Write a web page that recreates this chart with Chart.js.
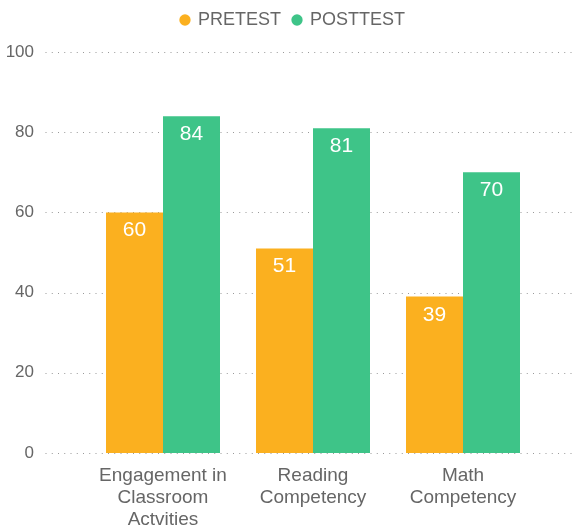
<!DOCTYPE html>
<html>
<head>
<meta charset="utf-8">
<script src="https://cdn.jsdelivr.net/npm/chart.js@4.4.1/dist/chart.umd.min.js"></script>
<style>
  html, body { margin: 0; padding: 0; background: #fff; }
  #wrap { width: 575px; height: 527px; }
</style>
</head>
<body>
<div id="wrap"><canvas id="barChart" width="575" height="527"></canvas></div>
<script>
const categories = [
    ['Engagement in', 'Classroom', 'Actvities'],
    ['Reading', 'Competency'],
    ['Math', 'Competency']
];
const pretest = [60, 51, 39];
const posttest = [84, 81, 70];
const yTicks = [0, 20, 40, 60, 80, 100];

const FONT = "'Liberation Sans', Arial, Helvetica, sans-serif";

// dotted lines across the whole width, y taken from the scale
const dottedGrid = {
    id: 'dottedGrid',
    beforeDatasetsDraw(chart) {
        const ctx = chart.ctx;
        const y = chart.scales.y;
        ctx.save();
        ctx.strokeStyle = '#999999';
        ctx.lineWidth = 1;
        ctx.setLineDash([1, 5.25]);
        yTicks.forEach(v => {
            const py = Math.round(y.getPixelForValue(v)) + 0.5;
            ctx.beginPath();
            ctx.moveTo(45.5, py);
            ctx.lineTo(chart.width, py);
            ctx.stroke();
        });
        ctx.restore();
    }
};

// white value labels inside the top of each bar
const valueLabels = {
    id: 'valueLabels',
    afterDatasetsDraw(chart) {
        const ctx = chart.ctx;
        ctx.save();
        ctx.fillStyle = '#ffffff';
        ctx.font = '21px ' + FONT;
        ctx.textAlign = 'center';
        ctx.textBaseline = 'alphabetic';
        chart.data.datasets.forEach((ds, i) => {
            chart.getDatasetMeta(i).data.forEach((bar, j) => {
                ctx.fillText(ds.data[j], bar.x, bar.y + 24);
            });
        });
        ctx.restore();
    }
};

// a bit more room under the legend, and move it to the right
const legendSpace = {
    id: 'legendSpace',
    beforeInit(chart) {
        const fit = chart.legend.fit;
        chart.legend.fit = function () {
            fit.bind(chart.legend)();
            this.height += 12;
        };
    },
    afterLayout(chart) {
        chart.legend.left += 24;
        chart.legend.right += 24;
        chart.legend.top -= 1;
    }
};

const CHART = document.getElementById('barChart');
let barChart = new Chart(CHART, {
    type: 'bar',
    data: {
        labels: categories,
        datasets: [
            {
                label: 'PRETEST',
                data: pretest,
                backgroundColor: '#fbb01f',
                borderWidth: 0
            },
            {
                label: 'POSTTEST',
                data: posttest,
                backgroundColor: '#3ec488',
                borderWidth: 0
            }
        ]
    },
    options: {
        responsive: false,
        animation: false,
        layout: { padding: { top: 0, right: 37, left: 0, bottom: 0 } },
        categoryPercentage: 0.76,
        barPercentage: 1.0,
        plugins: {
            legend: {
                position: 'top',
                labels: {
                    usePointStyle: true,
                    pointStyle: 'circle',
                    boxWidth: 8,
                    boxHeight: 8,
                    padding: 12,
                    color: '#666666',
                    font: { family: FONT, size: 18 }
                }
            },
            tooltip: { enabled: false }
        },
        scales: {
            x: {
                grid: { display: false, drawTicks: false },
                border: { display: false },
                afterFit(scale) { scale.height = 74; },
                ticks: {
                    color: '#666666',
                    padding: 12,
                    maxRotation: 0,
                    font: { family: FONT, size: 19, lineHeight: 1.15 }
                }
            },
            y: {
                min: 0,
                max: 100,
                grid: { display: false, drawTicks: false },
                border: { display: false },
                afterFit(scale) {
                    scale.width = 88;
                    scale.paddingTop = 10;
                    scale.paddingBottom = 10;
                },
                ticks: {
                    stepSize: 20,
                    padding: 54,
                    color: '#666666',
                    font: { family: FONT, size: 17 }
                }
            }
        }
    },
    plugins: [dottedGrid, valueLabels, legendSpace]
});
</script>
</body>
</html>
